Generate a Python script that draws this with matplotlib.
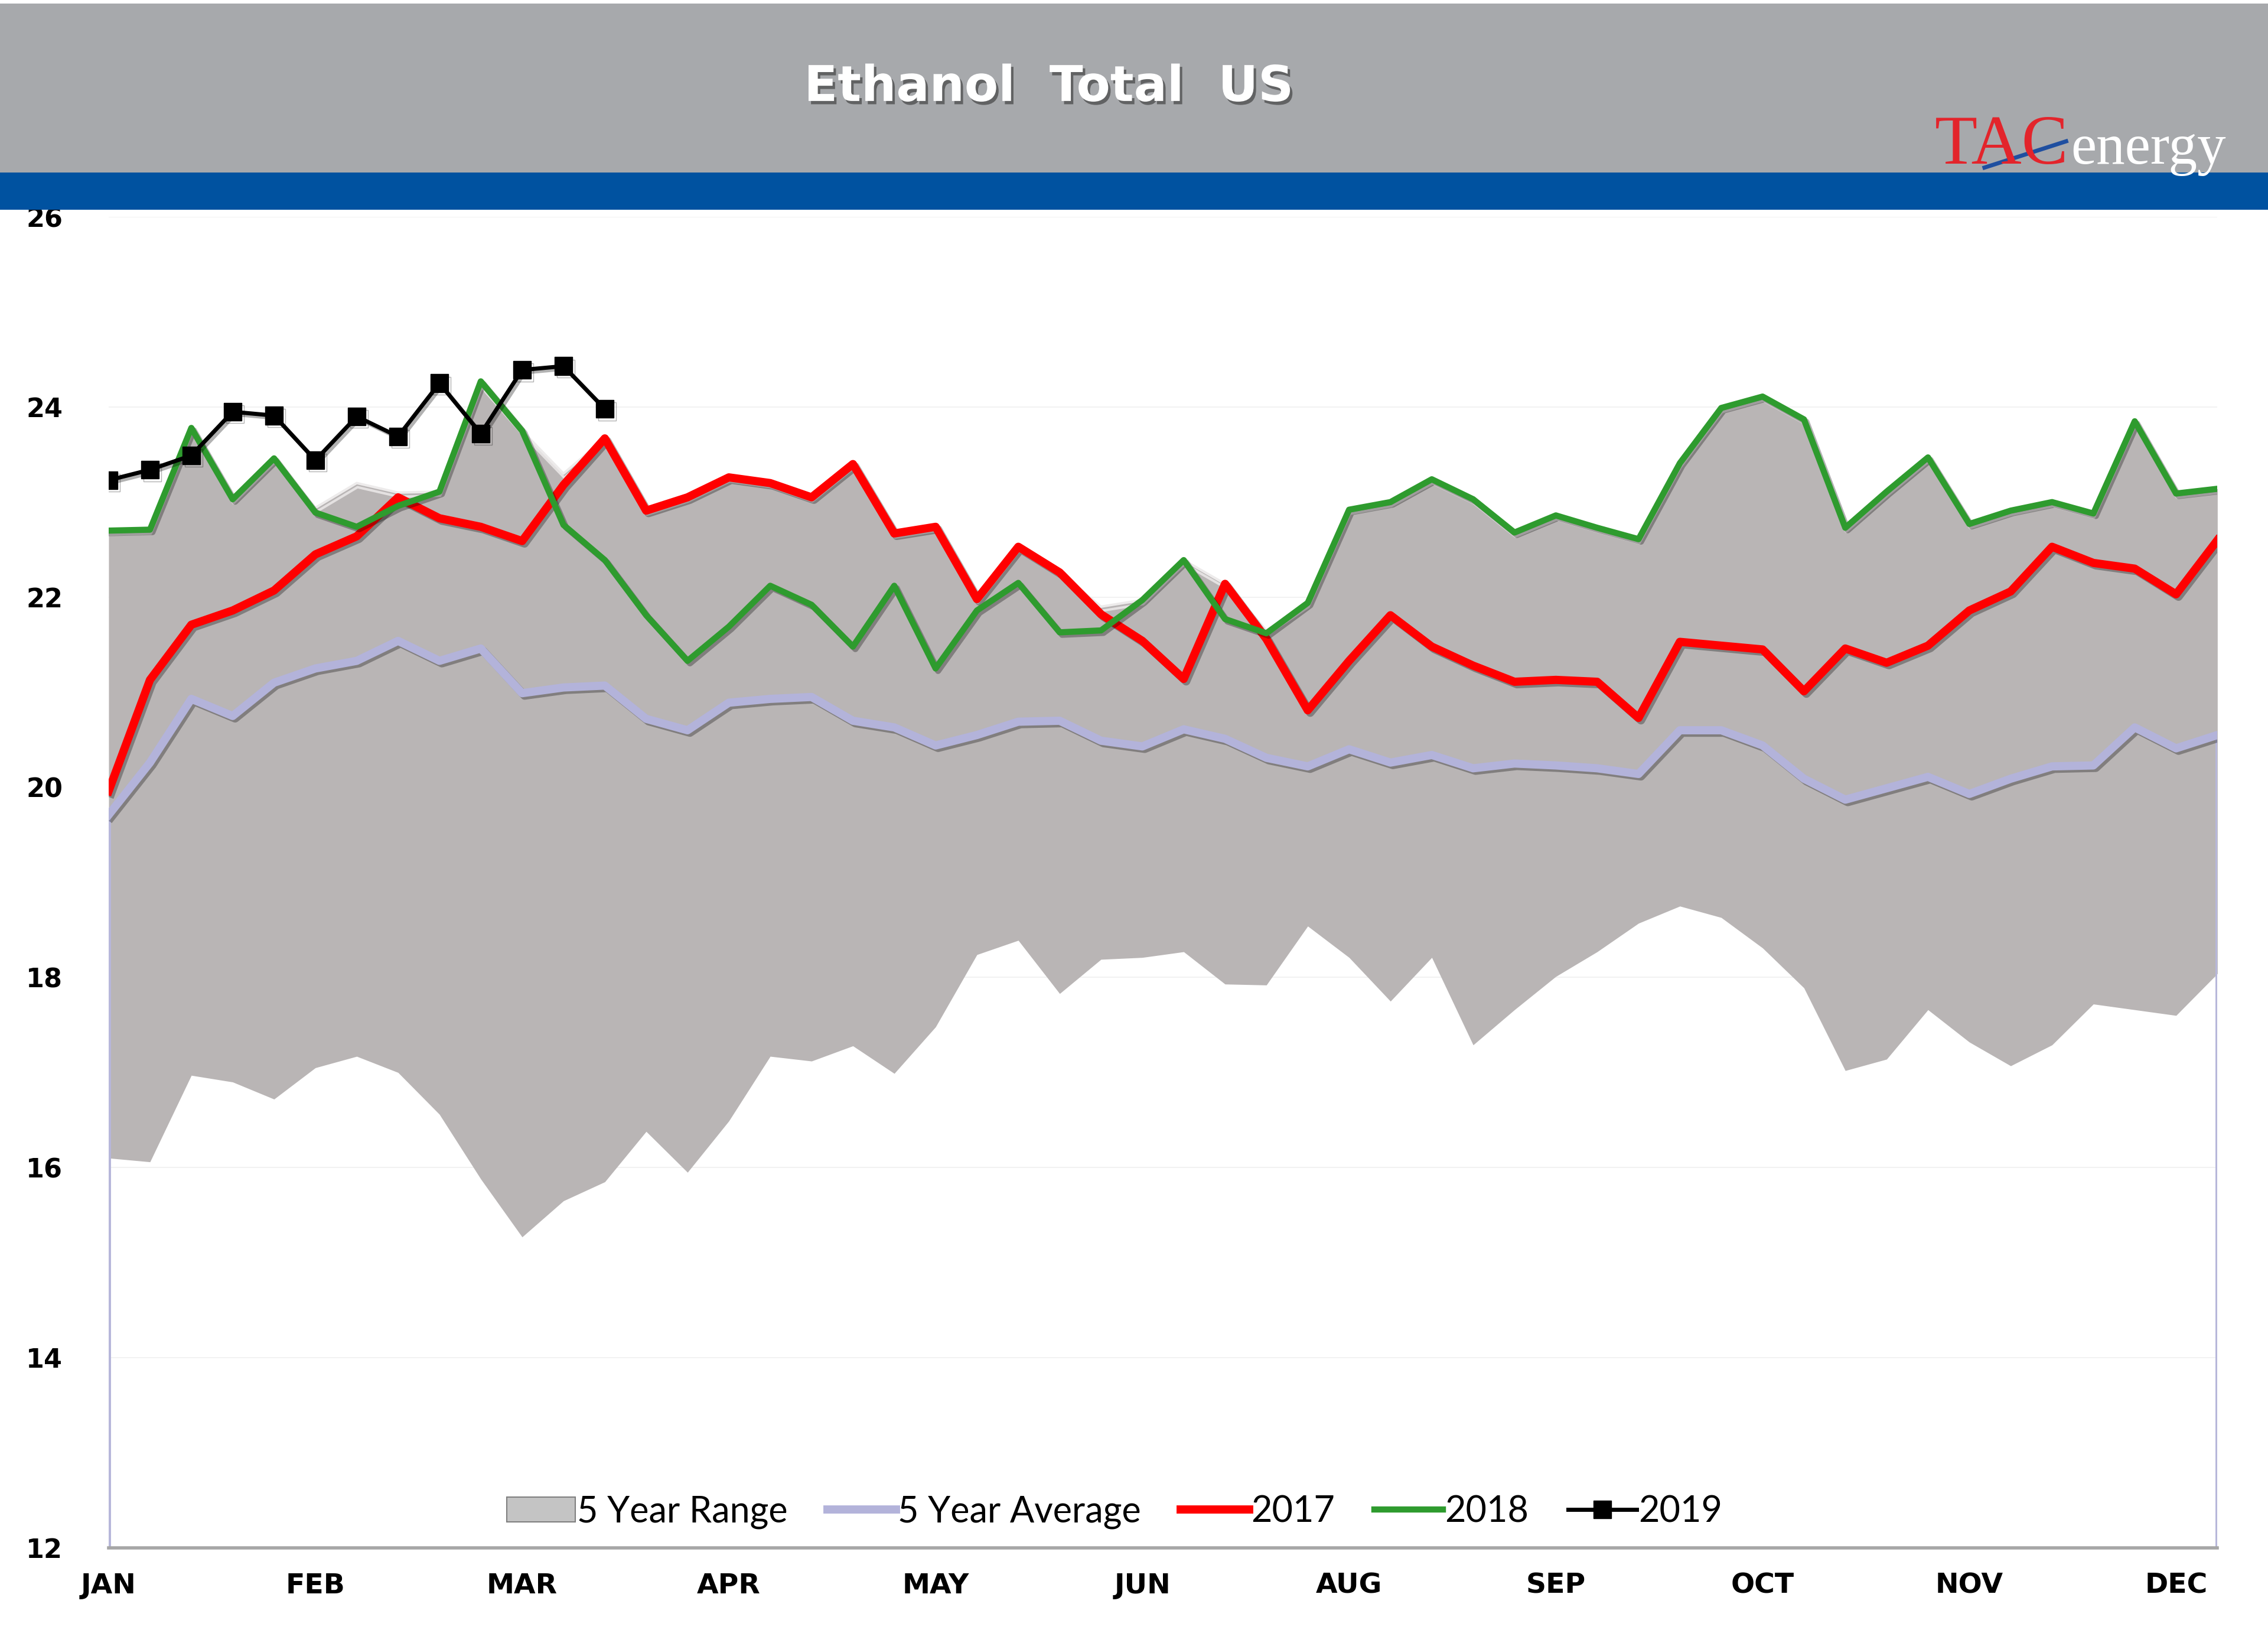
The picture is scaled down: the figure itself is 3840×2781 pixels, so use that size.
import numpy as np
import matplotlib
matplotlib.use("Agg")
import matplotlib.pyplot as plt
import matplotlib.patheffects as pe
from matplotlib.patches import Rectangle, Patch
from matplotlib.lines import Line2D

# weekly values (52 weeks)
weeks = np.arange(52)
month_ticks = [0, 5, 10, 15, 20, 25, 30, 35, 40, 45, 50]
month_labels = ["JAN", "FEB", "MAR", "APR", "MAY", "JUN", "AUG", "SEP", "OCT", "NOV", "DEC"]

range_hi = [22.70, 22.71, 23.78, 23.03, 23.46, 22.94, 23.20, 23.10, 23.11, 24.25,
            23.75, 23.30, 23.67, 22.91, 23.05, 23.26, 23.20, 23.05, 23.40, 22.67,
            22.74, 21.98, 22.53, 22.26, 21.90, 21.97, 22.39, 22.14, 21.65, 21.94,
            22.92, 23.00, 23.24, 23.03, 22.68, 22.86, 22.73, 22.61, 23.41, 23.99,
            24.11, 23.87, 22.73, 23.11, 23.47, 22.77, 22.91, 23.00, 22.88, 23.85,
            23.09, 23.14]
range_lo = [16.10, 16.06, 16.97, 16.90, 16.72, 17.05, 17.17, 17.00, 16.56, 15.88,
            15.27, 15.65, 15.85, 16.38, 15.95, 16.49, 17.17, 17.12, 17.28, 16.99,
            17.48, 18.24, 18.39, 17.83, 18.19, 18.21, 18.27, 17.93, 17.92, 18.54,
            18.21, 17.75, 18.21, 17.29, 17.66, 18.01, 18.27, 18.57, 18.75, 18.63,
            18.31, 17.89, 17.02, 17.14, 17.66, 17.32, 17.07, 17.29, 17.72, 17.66,
            17.60, 18.04]
avg5 = [19.71, 20.26, 20.93, 20.75, 21.10, 21.25, 21.33, 21.54, 21.33, 21.46,
        20.99, 21.05, 21.07, 20.72, 20.60, 20.89, 20.93, 20.95, 20.70, 20.63,
        20.44, 20.55, 20.69, 20.70, 20.49, 20.43, 20.61, 20.51, 20.31, 20.22,
        20.40, 20.26, 20.34, 20.20, 20.25, 20.23, 20.20, 20.14, 20.60, 20.60,
        20.44, 20.09, 19.87, 19.99, 20.11, 19.93, 20.09, 20.22, 20.23, 20.63,
        20.41, 20.55]
y2017 = [19.96, 21.13, 21.71, 21.86, 22.07, 22.45, 22.64, 23.05, 22.83, 22.74,
         22.59, 23.18, 23.67, 22.91, 23.05, 23.26, 23.20, 23.05, 23.40, 22.67,
         22.74, 21.98, 22.53, 22.26, 21.82, 21.54, 21.14, 22.14, 21.56, 20.81,
         21.33, 21.81, 21.48, 21.28, 21.11, 21.13, 21.11, 20.73, 21.53, 21.49,
         21.45, 21.01, 21.46, 21.31, 21.49, 21.86, 22.06, 22.53, 22.36, 22.30,
         22.03, 22.60]
y2018 = [22.70, 22.71, 23.78, 23.03, 23.46, 22.89, 22.74, 22.96, 23.11, 24.27,
         23.75, 22.76, 22.39, 21.81, 21.33, 21.69, 22.12, 21.92, 21.48, 22.12,
         21.25, 21.86, 22.15, 21.63, 21.65, 21.97, 22.39, 21.77, 21.62, 21.94,
         22.92, 23.00, 23.24, 23.03, 22.68, 22.86, 22.73, 22.61, 23.41, 23.99,
         24.11, 23.87, 22.73, 23.11, 23.47, 22.77, 22.91, 23.00, 22.88, 23.85,
         23.09, 23.14]
y2019 = [23.23, 23.34, 23.49, 23.95, 23.91, 23.44, 23.90, 23.69, 24.25, 23.72,
         24.39, 24.43, 23.98]

fig = plt.figure(figsize=(38.4, 27.81), dpi=100)
fig.patch.set_facecolor("white")

# header bands
fig.patches.append(Rectangle((0, 0.895), 1, 0.103, transform=fig.transFigure,
                             facecolor="#A7A9AC", edgecolor="none", zorder=0))
fig.patches.append(Rectangle((0, 0.8723), 1, 0.0227, transform=fig.transFigure,
                             facecolor="#0052A0", edgecolor="none", zorder=0))
fig.text(0.4625, 0.947, "Ethanol  Total  US", color="white", fontsize=60,
         fontweight="bold", ha="center", va="center",
         path_effects=[pe.withSimplePatchShadow(offset=(3, -4), shadow_rgbFace="#333333", alpha=0.6)])

# logo
fig.text(0.853, 0.9005, "TAC", color="#E3242B", fontsize=85, family="Liberation Serif",
         ha="left", va="baseline")
fig.text(0.913, 0.9005, "energy", color="white", fontsize=70, family="Liberation Serif",
         ha="left", va="baseline")
fig.add_artist(Line2D([0.875, 0.911], [0.898, 0.914], transform=fig.transFigure,
                      color="#1F4FA0", lw=5))

ax = fig.add_axes([0.0479, 0.0579, 0.9298, 0.8101])
ax.set_xlim(0, 51)
ax.set_ylim(12, 26)

ax.set_yticks(np.arange(12, 27, 2))
ax.grid(axis="y", color="#F0F0F0", lw=1.2)
ax.set_axisbelow(True)

ax.fill_between(weeks, range_lo, range_hi, color="#B9B5B5", lw=0, zorder=2)
ax.plot(weeks, range_hi, color="#EDEBEB", lw=3, zorder=2.5,
        path_effects=[pe.Stroke(offset=(1, -5), linewidth=3, foreground="#E4E1E1"), pe.Normal()])

shadow = [pe.SimpleLineShadow(offset=(3, -3), shadow_color="black", alpha=0.3), pe.Normal()]

ax.vlines([weeks[0], weeks[-1]], 12, [avg5[0], avg5[-1]], color="#B7B7DA", lw=5, zorder=3)
ax.plot(weeks, avg5, color="#B3B3DA", lw=10, zorder=4, path_effects=shadow,
        solid_joinstyle="round")
ax.plot(weeks, y2017, color="#FF0000", lw=10, zorder=5, path_effects=shadow,
        solid_joinstyle="round")
ax.plot(weeks, y2018, color="#2E9B2E", lw=7.5, zorder=6, path_effects=shadow,
        solid_joinstyle="round")
ax.plot(weeks[:len(y2019)], y2019, color="black", lw=5, marker="s", markersize=22,
        zorder=7, path_effects=shadow)

for s in ["top", "right", "left"]:
    ax.spines[s].set_visible(False)
ax.spines["bottom"].set_color("#A6A6A6")
ax.spines["bottom"].set_linewidth(4)
ax.spines["bottom"].set_zorder(8)

ax.set_xticks(month_ticks)
ax.set_xticklabels(month_labels)
ax.tick_params(axis="x", length=0, pad=30, labelsize=34)
ax.tick_params(axis="y", length=0, pad=56, labelsize=32)
for lab in ax.get_xticklabels() + ax.get_yticklabels():
    lab.set_fontweight("bold")

handles = [
    Patch(facecolor="#C4C4C4", edgecolor="#7F7F7F", lw=1.5),
    Line2D([], [], color="#B3B3DA", lw=10),
    Line2D([], [], color="#FF0000", lw=10),
    Line2D([], [], color="#2E9B2E", lw=7.5),
    Line2D([], [], color="black", lw=5, marker="s", markersize=22),
]
labels = ["5 Year Range", "5 Year Average", "2017", "2018", "2019"]
leg = ax.legend(handles, labels, loc="center", bbox_to_anchor=(0.477, 0.027), ncol=5,
                frameon=False, prop={"family": "Lato", "size": 44},
                handlelength=1.9, handletextpad=0.05, columnspacing=1.1)

fig.savefig("out.png", dpi=100)
